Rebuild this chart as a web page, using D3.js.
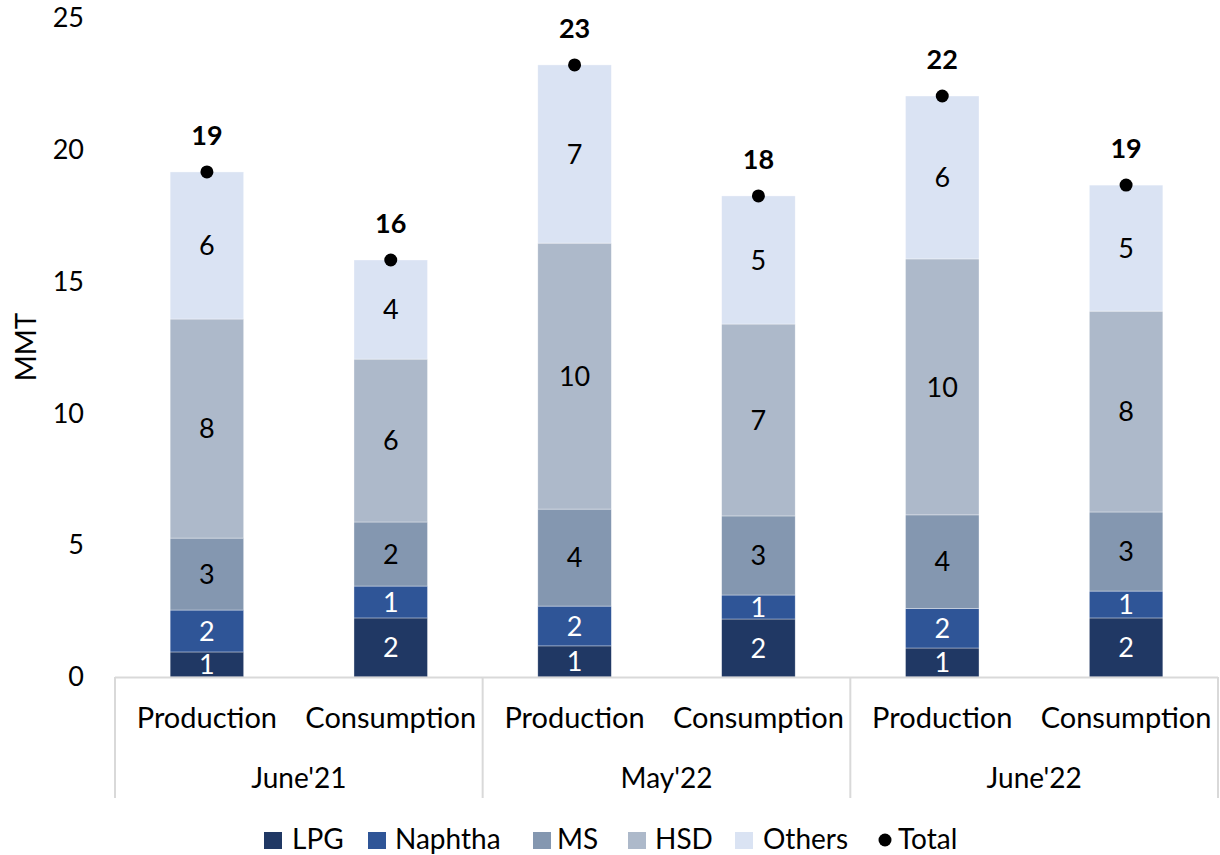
<!DOCTYPE html>
<html><head><meta charset="utf-8">
<script src="https://cdn.jsdelivr.net/npm/d3@7"></script>
<style>
body{margin:0;background:#fff;}
text{font-family:Lato,"Open Sans",sans-serif;}
</style></head>
<body><svg id="c" width="1220" height="855"></svg>
<script>
const groups = ["June'21","May'22","June'22"];
const subcats = ["Production","Consumption"];
const seriesNames = ["LPG","Naphtha","MS","HSD","Others"];
const colors = ["#203864","#2f5597","#8497b0","#adb9ca","#dae3f3"];
const labelColors = ["#fff","#fff","#000","#000","#000"];
const LPG     = [0.95, 2.24, 1.18, 2.20, 1.10, 2.24];
const Naphtha = [1.59, 1.21, 1.51, 0.91, 1.50, 1.02];
const MS      = [2.73, 2.43, 3.68, 3.00, 3.55, 3.00];
const HSD     = [8.31, 6.18, 10.09, 7.28, 9.71, 7.62];
const Others  = [5.58, 3.76, 6.76, 4.86, 6.18, 4.78];
const yTicks = [0,5,10,15,20,25];

const seriesVals = [LPG,Naphtha,MS,HSD,Others];
const bars = [];
groups.forEach((g,gi)=>subcats.forEach((s,si)=>{
  const i = gi*2+si; const row={key:g+"|"+s,group:g,sub:s};
  seriesNames.forEach((n,k)=>row[n]=seriesVals[k][i]);
  row.Total = seriesNames.reduce((a,n)=>a+row[n],0);
  bars.push(row);
}));

const svg = d3.select("#c");
const pLeft=115, pRight=1218, pTop=18, pBottom=677;
const x = d3.scaleBand().domain(bars.map(d=>d.key)).range([pLeft,pRight]).paddingInner(0.6).paddingOuter(0.3);
const y = d3.scaleLinear().domain([0,25]).range([pBottom,pTop]);

svg.append("g").attr("transform",`translate(${pLeft},0)`)
  .call(d3.axisLeft(y).tickValues(yTicks).tickSize(0).tickPadding(31))
  .call(g=>g.select(".domain").remove())
  .call(g=>g.selectAll("text").attr("font-size",27).attr("fill","#000").attr("font-family","Lato,'Open Sans',sans-serif"));

svg.append("text").attr("transform",`translate(36,347) rotate(-90)`)
  .attr("text-anchor","middle").attr("font-size",28).text("MMT");

const stack = d3.stack().keys(seriesNames)(bars);
const layer = svg.selectAll("g.layer").data(stack).join("g").attr("class","layer")
  .attr("fill",(d,i)=>colors[i]);
layer.selectAll("rect").data(d=>d).join("rect")
  .attr("x",d=>x(d.data.key)).attr("width",x.bandwidth())
  .attr("y",d=>y(d[1])).attr("height",d=>y(d[0])-y(d[1]))
  .attr("stroke","#fff").attr("stroke-width",0.6).attr("stroke-opacity",0.6);

stack.forEach((s,i)=>{
  svg.append("g").selectAll("text").data(s).join("text")
    .attr("x",d=>x(d.data.key)+x.bandwidth()/2)
    .attr("y",d=>(y(d[0])+y(d[1]))/2).attr("dy","0.36em")
    .attr("text-anchor","middle").attr("font-size",27).attr("fill",labelColors[i])
    .text(d=>Math.round(d[1]-d[0]));
});

const axisCol="#d9d9d9";
svg.append("line").attr("x1",pLeft).attr("x2",pRight).attr("y1",pBottom+0.5).attr("y2",pBottom+0.5).attr("stroke",axisCol).attr("stroke-width",2);
const gx = [pLeft, (x(bars[1].key)+x.bandwidth()+x(bars[2].key))/2, (x(bars[3].key)+x.bandwidth()+x(bars[4].key))/2, pRight];
gx.forEach(v=>svg.append("line").attr("x1",v).attr("x2",v).attr("y1",pBottom).attr("y2",798).attr("stroke",axisCol).attr("stroke-width",2));

svg.append("g").selectAll("text").data(bars).join("text")
  .attr("x",d=>x(d.key)+x.bandwidth()/2).attr("y",728).attr("text-anchor","middle")
  .attr("font-size",29).text(d=>d.sub);
svg.append("g").selectAll("text").data(groups).join("text")
  .attr("x",(d,i)=>(gx[i]+gx[i+1])/2).attr("y",788).attr("text-anchor","middle")
  .attr("font-size",28).text(d=>d);

svg.append("g").selectAll("circle").data(bars).join("circle")
  .attr("cx",d=>x(d.key)+x.bandwidth()/2).attr("cy",d=>y(d.Total)).attr("r",6.5).attr("fill","#000");
svg.append("g").selectAll("text").data(bars).join("text")
  .attr("x",d=>x(d.key)+x.bandwidth()/2).attr("y",d=>y(d.Total)-27).attr("text-anchor","middle")
  .attr("font-size",27).attr("font-weight","bold").text(d=>Math.round(d.Total));

const legItems = seriesNames.map((n,i)=>({n,c:colors[i],t:"rect"})).concat([{n:"Total",c:"#000",t:"dot"}]);
const legMark = [264,368,533,628,735,878];
const legText = [292,395,557,655,763,898];
const lg = svg.append("g");
legItems.forEach((it,i)=>{
  if(it.t==="rect") lg.append("rect").attr("x",legMark[i]).attr("y",832).attr("width",18).attr("height",17).attr("fill",it.c);
  else lg.append("circle").attr("cx",legMark[i]+7).attr("cy",840).attr("r",6.5).attr("fill",it.c);
  lg.append("text").attr("x",legText[i]).attr("y",849).attr("font-size",28).text(it.n);
});
</script></body></html>
